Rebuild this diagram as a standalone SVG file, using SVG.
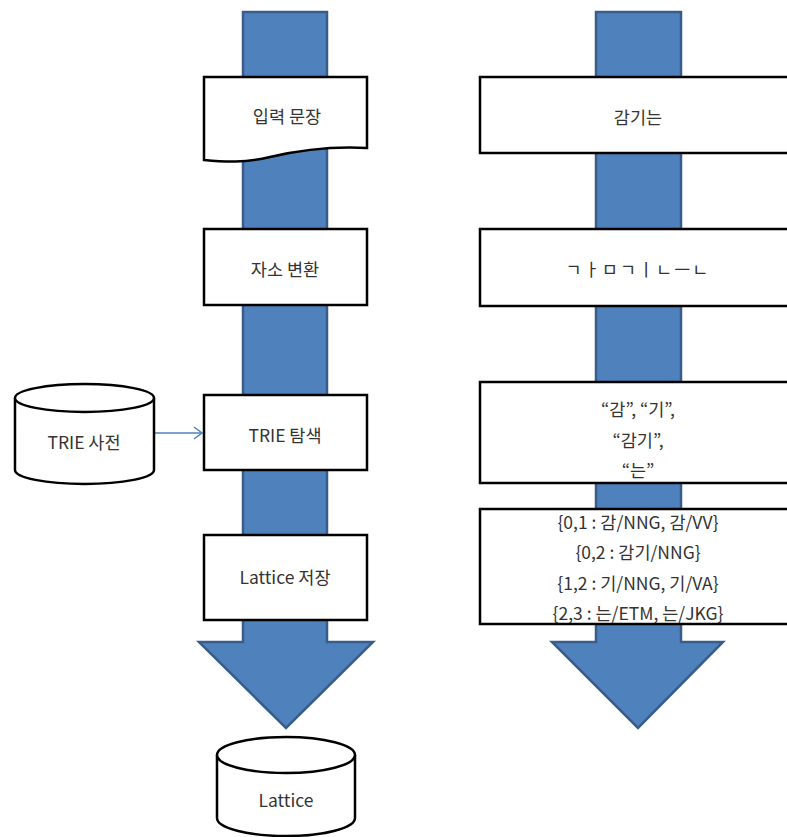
<svg xmlns="http://www.w3.org/2000/svg" width="787" height="837" viewBox="0 0 787 837">
<defs>
<style>
.arrow{fill:#4f81bd;stroke:#385d8a;stroke-width:2.5;stroke-linejoin:miter}
.box{fill:#ffffff;stroke:#000000;stroke-width:2.5}
.lbl{font-family:"Noto Sans CJK KR","Noto Sans",sans-serif;font-size:17.5px;fill:#333333;text-anchor:middle;dominant-baseline:central}
.conn{stroke:#4f81bd;stroke-width:1.5;fill:none}
</style>
<marker id="open" markerWidth="12" markerHeight="14" refX="10" refY="7" orient="auto" markerUnits="userSpaceOnUse">
<path d="M2,1 L10,7 L2,13" fill="none" stroke="#4f81bd" stroke-width="1.5"/>
</marker>
</defs>
<rect width="787" height="837" fill="#ffffff"/>
<g id="flow-arrows">
<polygon class="arrow" points="243,12 327,12 327,642 373,642 286,728 199,642 243,642"/>
<polygon class="arrow" points="596,12 681,12 681,642 723,642 638,728 552,642 596,642"/>
</g>
<g id="connectors">
<line class="conn" x1="154" y1="433" x2="202" y2="433" marker-end="url(#open)"/>
</g>
<g id="input-sentence">
<path class="box" d="M204,77 L367,77 L367,148 C330,146 300,150 270,157 C245,163 225,162 204,160 Z"/>
<text class="lbl" x="287" y="115">입력 문장</text>
</g>
<g id="jaso">
<rect class="box" x="204" y="229" width="163" height="76"/>
<text class="lbl" x="285" y="268">자소 변환</text>
</g>
<g id="trie-search">
<rect class="box" x="204" y="395" width="163" height="75"/>
<text class="lbl" x="285" y="434">TRIE 탐색</text>
</g>
<g id="lattice-save">
<rect class="box" x="204" y="535" width="163" height="85"/>
<text class="lbl" x="285" y="576">Lattice 저장</text>
</g>
<g id="trie-dict">
<path class="box" d="M15,398 A69.5,14 0 0 1 154,398 L154,470 A69.5,14 0 0 1 15,470 Z"/>
<path class="box" fill="none" d="M15,398 A69.5,14 0 0 0 154,398"/>
<text class="lbl" x="84" y="441">TRIE 사전</text>
</g>
<g id="lattice-db">
<path class="box" d="M217,755 A69,18 0 0 1 355,755 L355,818 A69,18 0 0 1 217,818 Z"/>
<path class="box" fill="none" d="M217,755 A69,18 0 0 0 355,755"/>
<text class="lbl" x="286" y="799">Lattice</text>
</g>
<g id="ex-input">
<rect class="box" x="480" y="77" width="318" height="76"/>
<text class="lbl" x="638" y="116">감기는</text>
</g>
<g id="ex-jaso">
<rect class="box" x="480" y="229" width="318" height="77"/>
<text class="lbl" x="638" y="268" style="letter-spacing:2px">ㄱㅏㅁㄱㅣㄴㅡㄴ</text>
</g>
<g id="ex-trie">
<rect class="box" x="480" y="382" width="318" height="101"/>
<text class="lbl" x="638" y="408">“감”, “기”,</text>
<text class="lbl" x="638" y="439">“감기”,</text>
<text class="lbl" x="638" y="469">“는”</text>
</g>
<g id="ex-lattice">
<rect class="box" x="480" y="509" width="318" height="115"/>
<text class="lbl" x="638" y="521">{0,1 : 감/NNG, 감/VV}</text>
<text class="lbl" x="638" y="551">{0,2 : 감기/NNG}</text>
<text class="lbl" x="638" y="582">{1,2 : 기/NNG, 기/VA}</text>
<text class="lbl" x="638" y="612">{2,3 : 는/ETM, 는/JKG}</text>
</g>
</svg>
